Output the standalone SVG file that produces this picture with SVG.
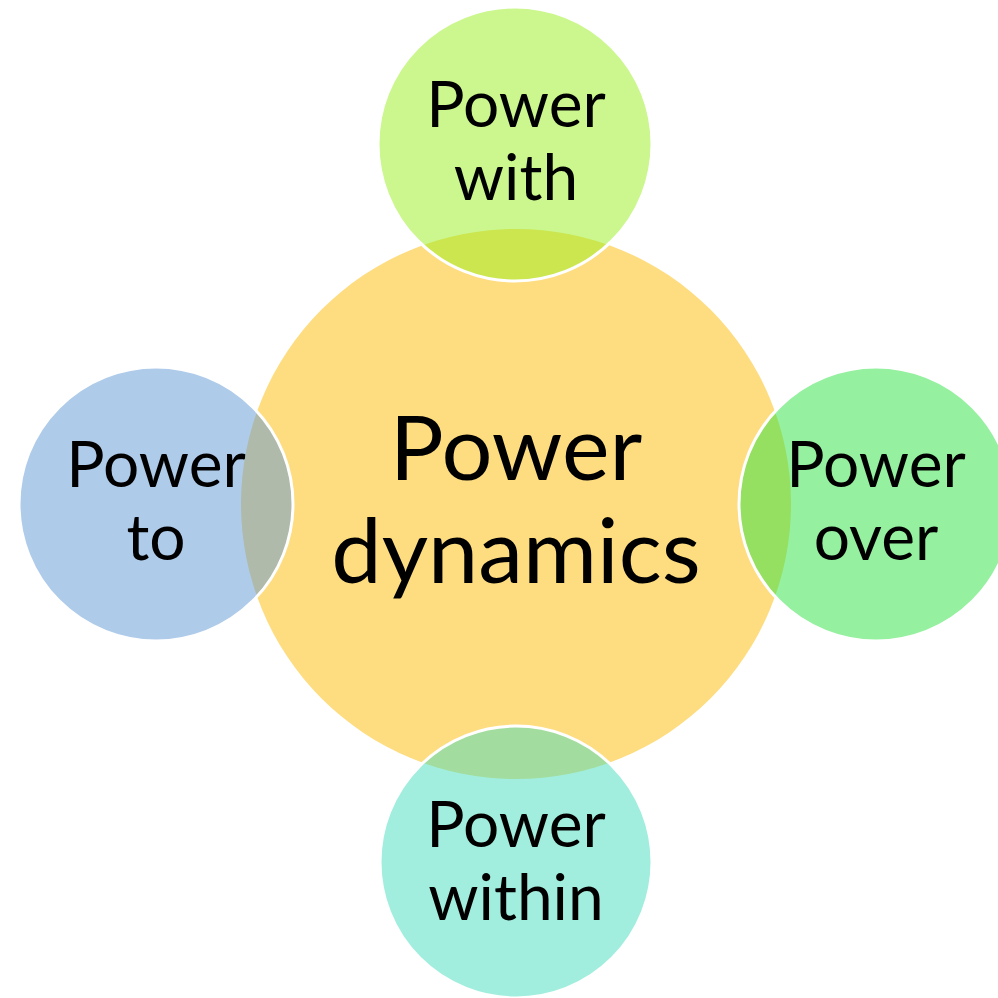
<svg xmlns="http://www.w3.org/2000/svg" width="998" height="998" viewBox="0 0 998 998">
<style>
.sat{stroke:#fff;stroke-width:3;fill-opacity:0.5}
.t{font-family:Lato,"Open Sans","Liberation Sans",sans-serif;fill:#000;text-anchor:middle}
.s{font-size:64px}
.b{font-size:90px}
</style>
<rect width="998" height="998" fill="#fff"/>
<g id="connectors"></g>
<g id="center">
<circle cx="516" cy="504" r="275" fill="#FEDC80"/>
<text class="t b" x="516" y="480">Power</text>
<text class="t b" x="516" y="583">dynamics</text>
</g>
<g id="top">
<circle class="sat" cx="515" cy="144" r="137" fill="#97EF1D"/>
<text class="t s" x="516" y="127">Power</text>
<text class="t s" x="516" y="200">with</text>
</g>
<g id="left">
<circle class="sat" cx="156" cy="504" r="137" fill="#5F97D5"/>
<text class="t s" x="156" y="487">Power</text>
<text class="t s" x="156" y="560">to</text>
</g>
<g id="right">
<circle class="sat" cx="876" cy="504" r="137" fill="#2BE141"/>
<text class="t s" x="876" y="487">Power</text>
<text class="t s" x="876" y="560">over</text>
</g>
<g id="bottom">
<circle class="sat" cx="516" cy="862" r="136" fill="#45DDBD"/>
<text class="t s" x="516" y="847">Power</text>
<text class="t s" x="516" y="920">within</text>
</g>
</svg>
